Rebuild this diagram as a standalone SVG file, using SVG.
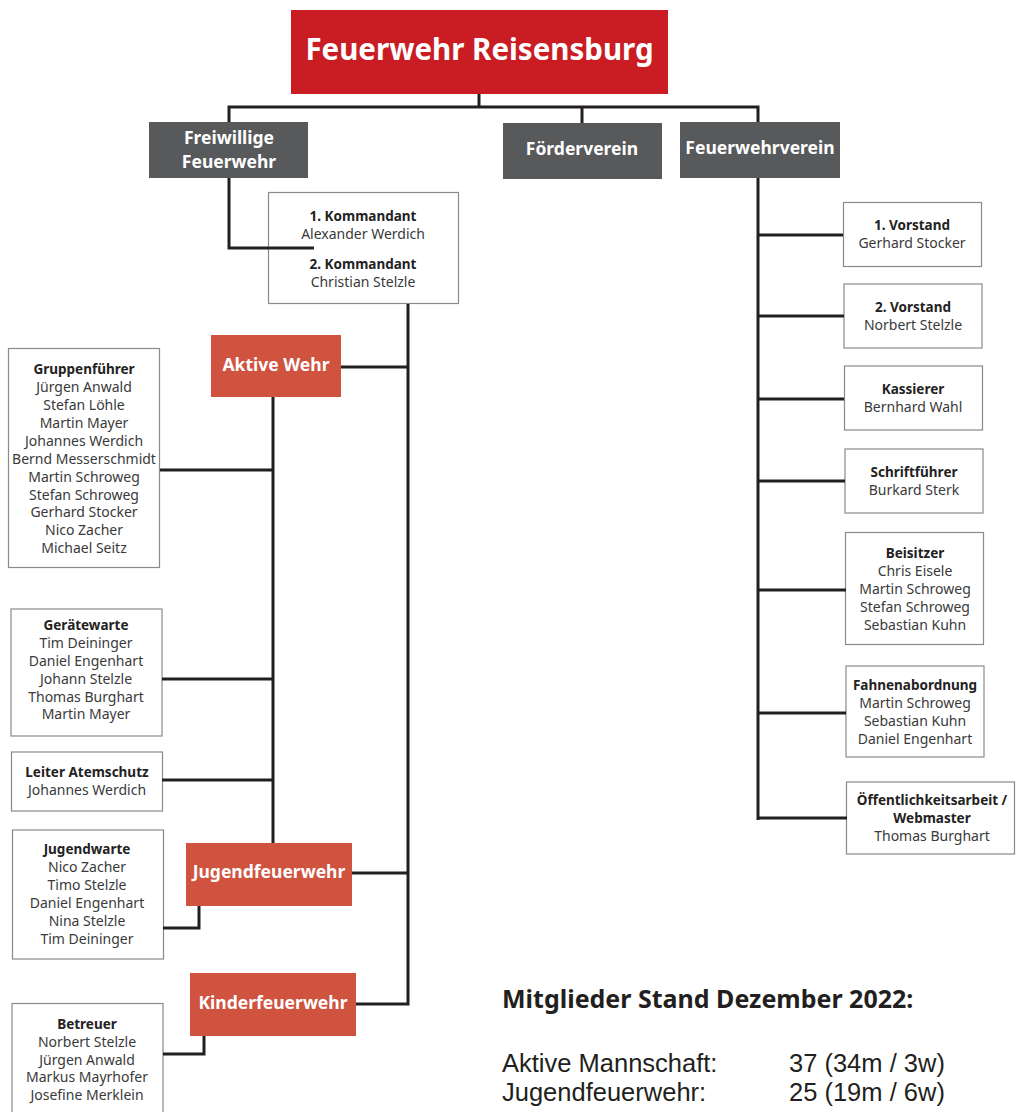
<svg xmlns="http://www.w3.org/2000/svg" width="1016" height="1112" viewBox="0 0 1016 1112">
<style>
.title{font-family:"Noto Sans","Liberation Sans",sans-serif;font-weight:bold;font-size:29.5px;fill:#fff;text-anchor:middle}
.hdr{font-family:"Noto Sans","Liberation Sans",sans-serif;font-weight:bold;font-size:17.5px;fill:#fff;text-anchor:middle}
.bx{fill:#fff;stroke:#8a8a8a;stroke-width:1.2}
.gray{fill:#58595b}
.coral{fill:#d05340}
.red{fill:#c91c23}
.b{font-family:"Noto Sans","Liberation Sans",sans-serif;font-weight:bold;font-size:13.5px;fill:#222;text-anchor:middle}
.n{font-family:"Noto Sans","Liberation Sans",sans-serif;font-size:14px;fill:#3a3a3a;text-anchor:middle}
.conn{fill:none;stroke:#231f20;stroke-width:3}
.sh{font-family:"Noto Sans","Liberation Sans",sans-serif;font-weight:bold;font-size:25px;fill:#231f20}
.st{font-family:"Liberation Sans","Noto Sans",sans-serif;font-size:25.5px;fill:#231f20}
</style>
<g id="feuerwehr-reisensburg"><rect class="red" x="291" y="10" width="377" height="84"/><text class="title" x="479.5" y="60">Feuerwehr Reisensburg</text></g>
<g id="freiwillige-feuerwehr"><rect class="gray" x="149" y="122" width="159" height="56"/><text class="hdr" x="229" y="144">Freiwillige</text><text class="hdr" x="229" y="168">Feuerwehr</text></g>
<g id="foerderverein"><rect class="gray" x="503" y="123" width="159" height="56"/><text class="hdr" x="582" y="155">Förderverein</text></g>
<g id="feuerwehrverein"><rect class="gray" x="680" y="122" width="160" height="56"/><text class="hdr" x="760" y="154">Feuerwehrverein</text></g>
<g id="kommandanten"><rect class="bx" x="268.5" y="192.5" width="190" height="111"/><text class="b" x="363" y="221">1. Kommandant</text><text class="n" x="363" y="239">Alexander Werdich</text><text class="b" x="363" y="269">2. Kommandant</text><text class="n" x="363" y="287">Christian Stelzle</text></g>
<g id="aktive-wehr"><rect class="coral" x="211" y="335" width="130" height="62"/><text class="hdr" x="276" y="371">Aktive Wehr</text></g>
<g id="jugendfeuerwehr"><rect class="coral" x="186" y="843" width="166" height="63"/><text class="hdr" x="269" y="878">Jugendfeuerwehr</text></g>
<g id="kinderfeuerwehr"><rect class="coral" x="190" y="973" width="166" height="63"/><text class="hdr" x="273" y="1009">Kinderfeuerwehr</text></g>
<g id="gruppenfuehrer"><rect class="bx" x="8.5" y="348.5" width="151" height="219"/><text class="b" x="84" y="374">Gruppenführer</text><text class="n" x="84" y="392">Jürgen Anwald</text><text class="n" x="84" y="410">Stefan Löhle</text><text class="n" x="84" y="428">Martin Mayer</text><text class="n" x="84" y="446">Johannes Werdich</text><text class="n" x="84" y="464">Bernd Messerschmidt</text><text class="n" x="84" y="482">Martin Schroweg</text><text class="n" x="84" y="500">Stefan Schroweg</text><text class="n" x="84" y="517">Gerhard Stocker</text><text class="n" x="84" y="535">Nico Zacher</text><text class="n" x="84" y="553">Michael Seitz</text></g>
<g id="geraetewarte"><rect class="bx" x="11" y="609" width="151" height="127"/><text class="b" x="86" y="630">Gerätewarte</text><text class="n" x="86" y="648">Tim Deininger</text><text class="n" x="86" y="666">Daniel Engenhart</text><text class="n" x="86" y="684">Johann Stelzle</text><text class="n" x="86" y="702">Thomas Burghart</text><text class="n" x="86" y="719">Martin Mayer</text></g>
<g id="leiter-atemschutz"><rect class="bx" x="11.5" y="752" width="151" height="59"/><text class="b" x="87" y="777">Leiter Atemschutz</text><text class="n" x="87" y="795">Johannes Werdich</text></g>
<g id="jugendwarte"><rect class="bx" x="12.5" y="830" width="151" height="129"/><text class="b" x="87" y="854">Jugendwarte</text><text class="n" x="87" y="872">Nico Zacher</text><text class="n" x="87" y="890">Timo Stelzle</text><text class="n" x="87" y="908">Daniel Engenhart</text><text class="n" x="87" y="926">Nina Stelzle</text><text class="n" x="87" y="944">Tim Deininger</text></g>
<g id="betreuer"><rect class="bx" x="12" y="1003.5" width="151" height="112"/><text class="b" x="87" y="1029">Betreuer</text><text class="n" x="87" y="1047">Norbert Stelzle</text><text class="n" x="87" y="1065">Jürgen Anwald</text><text class="n" x="87" y="1082">Markus Mayrhofer</text><text class="n" x="87" y="1100">Josefine Merklein</text></g>
<g id="vorstand-1"><rect class="bx" x="843.5" y="202.5" width="138" height="64"/><text class="b" x="912" y="230">1. Vorstand</text><text class="n" x="912" y="248">Gerhard Stocker</text></g>
<g id="vorstand-2"><rect class="bx" x="844" y="284" width="138" height="64"/><text class="b" x="913" y="312">2. Vorstand</text><text class="n" x="913" y="330">Norbert Stelzle</text></g>
<g id="kassierer"><rect class="bx" x="844.5" y="366" width="138" height="64"/><text class="b" x="913" y="394">Kassierer</text><text class="n" x="913" y="412">Bernhard Wahl</text></g>
<g id="schriftfuehrer"><rect class="bx" x="845" y="449" width="138" height="64"/><text class="b" x="914" y="477">Schriftführer</text><text class="n" x="914" y="495">Burkard Sterk</text></g>
<g id="beisitzer"><rect class="bx" x="845.5" y="532.5" width="138" height="112"/><text class="b" x="915" y="558">Beisitzer</text><text class="n" x="915" y="576">Chris Eisele</text><text class="n" x="915" y="594">Martin Schroweg</text><text class="n" x="915" y="612">Stefan Schroweg</text><text class="n" x="915" y="630">Sebastian Kuhn</text></g>
<g id="fahnenabordnung"><rect class="bx" x="846" y="666" width="138" height="91"/><text class="b" x="915" y="690">Fahnenabordnung</text><text class="n" x="915" y="708">Martin Schroweg</text><text class="n" x="915" y="726">Sebastian Kuhn</text><text class="n" x="915" y="744">Daniel Engenhart</text></g>
<g id="oeffentlichkeitsarbeit"><rect class="bx" x="846.5" y="782" width="168" height="72"/><text class="b" x="932" y="805">Öffentlichkeitsarbeit /</text><text class="b" x="932" y="823">Webmaster</text><text class="n" x="932" y="841">Thomas Burghart</text></g>
<g id="mitglieder"><text class="sh" x="502" y="1008">Mitglieder Stand Dezember 2022:</text><text class="st" x="502" y="1072">Aktive Mannschaft:</text><text class="st" x="789" y="1072">37 (34m / 3w)</text><text class="st" x="502" y="1101">Jugendfeuerwehr:</text><text class="st" x="789" y="1101">25 (19m / 6w)</text></g>
<g id="connectors" class="conn">
<path d="M479 94 V107"/>
<path d="M229 122 V107 H758 V122"/>
<path d="M582 107 V123"/>
<path d="M229 178 V248 H314"/>
<path d="M408 304 V1004 H356"/>
<path d="M341 367 H408"/>
<path d="M352 873 H408"/>
<path d="M273 397 V843"/>
<path d="M160 470 H273"/>
<path d="M162 679 H273"/>
<path d="M162 780 H273"/>
<path d="M163 928 H199 V906"/>
<path d="M163 1054 H204 V1036"/>
<path d="M758 178 V820"/>
<path d="M758 235 H843"/>
<path d="M758 316 H844"/>
<path d="M758 399 H844"/>
<path d="M758 481 H845"/>
<path d="M758 590 H846"/>
<path d="M758 713 H846"/>
<path d="M758 818 H847"/>
</g>
</svg>
